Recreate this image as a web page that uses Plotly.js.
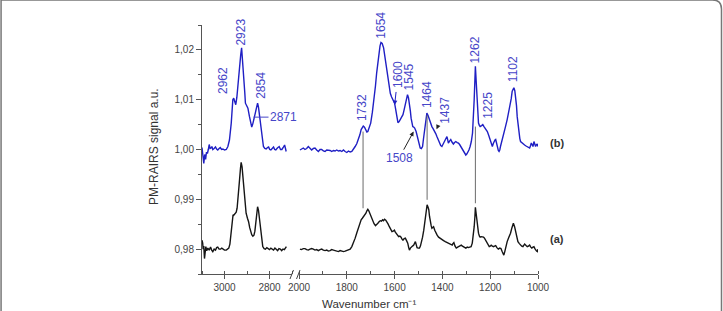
<!DOCTYPE html>
<html>
<head>
<meta charset="utf-8">
<script src="https://cdn.plot.ly/plotly-3.0.1.min.js"></script>
<style>
  html, body { margin: 0; padding: 0; background: #ffffff; }
  #chart { width: 723px; height: 311px; }
</style>
</head>
<body>
<div id="chart"></div>
<script>
// PM-RAIRS spectra, C-H stretching region (3100-2700 cm-1)
const wnCH_b = [3100,3096,3092,3088,3084,3080,3076,3072,3068,3064,3060,3056,3052,3046,3040,3035,3030,3024,3019,3013,3007,3000,2992,2985,2978,2970,2963,2959,2955,2950,2945,2939,2933,2928,2924,2919,2914,2910,2907,2901,2896,2889,2884,2879,2874,2870,2866,2862,2857,2853,2849,2844,2840,2837,2832,2827,2821,2815,2809,2804,2799,2794,2788,2782,2777,2772,2765,2757,2751,2745,2739,2733,2729,2726];
const sigCH_b = [1.0004,0.9988,0.9972,0.9990,0.9980,0.9995,0.9992,1.0000,1.0010,1.0002,1.0003,1.0006,1.0000,1.0002,1.0005,1.0001,0.9999,1.0002,1.0004,1.0000,1.0001,0.9999,1.0000,1.0006,1.0019,1.0053,1.0100,1.0103,1.0098,1.0090,1.0105,1.0140,1.0167,1.0190,1.0204,1.0178,1.0147,1.0115,1.0093,1.0087,1.0083,1.0066,1.0055,1.0045,1.0052,1.0060,1.0064,1.0070,1.0085,1.0093,1.0085,1.0066,1.0045,1.0033,1.0015,1.0006,1.0002,1.0001,1.0004,1.0005,1.0000,0.9999,1.0002,1.0005,1.0000,0.9999,1.0003,1.0006,1.0000,1.0000,1.0004,1.0009,1.0002,0.9996];

const wnCH_a = [3100,3097,3095,3092,3089,3086,3083,3079,3074,3068,3062,3057,3052,3046,3040,3035,3030,3024,3017,3012,3007,3000,2992,2986,2981,2976,2973,2969,2966,2962,2959,2954,2948,2944,2941,2937,2933,2929,2926,2922,2919,2915,2911,2907,2904,2898,2893,2888,2884,2879,2874,2869,2865,2861,2857,2853,2849,2844,2840,2836,2830,2824,2818,2812,2806,2800,2794,2788,2782,2776,2770,2764,2758,2752,2746,2740,2734,2729,2725];
const sigCH_a = [0.9818,0.9812,0.9800,0.9806,0.9781,0.9800,0.9805,0.9797,0.9802,0.9798,0.9804,0.9798,0.9795,0.9800,0.9798,0.9803,0.9804,0.9800,0.9800,0.9802,0.9800,0.9798,0.9798,0.9800,0.9802,0.9810,0.9825,0.9850,0.9865,0.9869,0.9868,0.9870,0.9874,0.9882,0.9895,0.9918,0.9940,0.9962,0.9974,0.9965,0.9950,0.9925,0.9900,0.9882,0.9872,0.9862,0.9855,0.9843,0.9835,0.9829,0.9826,0.9828,0.9836,0.9850,0.9870,0.9885,0.9878,0.9858,0.9835,0.9816,0.9805,0.9801,0.9800,0.9803,0.9800,0.9799,0.9802,0.9800,0.9798,0.9802,0.9800,0.9797,0.9801,0.9800,0.9797,0.9800,0.9799,0.9802,0.9805];

// PM-RAIRS spectra, fingerprint region (2000-1000 cm-1)
const wnFP_b = [1996,1989,1982,1975,1968,1961,1954,1947,1940,1933,1926,1919,1912,1905,1898,1891,1884,1877,1870,1863,1856,1849,1842,1835,1828,1821,1814,1807,1800,1793,1786,1779,1772,1765,1758,1751,1745,1740,1735,1731,1726,1720,1716,1712,1706,1700,1693,1686,1680,1675,1670,1666,1661,1657,1652,1646,1641,1636,1631,1627,1622,1618,1613,1607,1600,1596,1593,1589,1586,1581,1576,1570,1565,1560,1555,1550,1546,1542,1538,1534,1531,1527,1524,1520,1516,1510,1506,1502,1497,1493,1488,1483,1479,1475,1470,1465,1460,1455,1450,1444,1439,1434,1428,1423,1418,1413,1407,1402,1397,1392,1386,1381,1378,1375,1370,1365,1360,1354,1349,1344,1338,1333,1328,1323,1318,1312,1307,1302,1298,1294,1289,1284,1279,1274,1270,1267,1264,1262,1259,1256,1252,1249,1245,1242,1236,1231,1226,1221,1216,1212,1206,1200,1195,1191,1187,1184,1180,1177,1173,1170,1166,1163,1160,1157,1150,1143,1136,1129,1123,1118,1112,1108,1104,1101,1097,1094,1090,1087,1083,1080,1076,1073,1069,1066,1061,1056,1050,1045,1040,1035,1031,1028,1024,1021,1017,1014,1010,1007,1003,1000];
const sigFP_b = [0.9999,1.0001,1.0003,1.0000,1.0002,1.0006,1.0002,0.9999,1.0002,1.0003,0.9999,0.9996,1.0000,1.0000,0.9997,0.9996,0.9999,0.9999,0.9998,0.9996,0.9998,0.9997,0.9999,0.9997,0.9998,0.9996,0.9999,0.9996,0.9994,0.9997,0.9995,0.9996,1.0000,1.0006,1.0012,1.0020,1.0030,1.0040,1.0046,1.0047,1.0045,1.0038,1.0035,1.0036,1.0043,1.0053,1.0075,1.0100,1.0128,1.0154,1.0178,1.0194,1.0208,1.0215,1.0213,1.0204,1.0188,1.0167,1.0150,1.0134,1.0122,1.0113,1.0106,1.0100,1.0093,1.0082,1.0073,1.0062,1.0054,1.0056,1.0060,1.0064,1.0070,1.0080,1.0093,1.0103,1.0110,1.0104,1.0093,1.0077,1.0063,1.0052,1.0046,1.0045,1.0043,1.0036,1.0028,1.0020,1.0010,1.0003,1.0002,1.0006,1.0022,1.0040,1.0058,1.0073,1.0068,1.0060,1.0053,1.0046,1.0042,1.0038,1.0032,1.0026,1.0019,1.0013,1.0008,1.0006,1.0011,1.0016,1.0022,1.0026,1.0020,1.0013,1.0017,1.0020,1.0015,1.0011,1.0014,1.0016,1.0014,1.0013,1.0010,1.0006,1.0000,0.9996,0.9991,0.9989,0.9991,0.9994,0.9999,1.0006,1.0016,1.0033,1.0065,1.0100,1.0140,1.0167,1.0140,1.0113,1.0080,1.0053,1.0048,1.0046,1.0048,1.0050,1.0046,1.0043,1.0040,1.0036,1.0028,1.0020,1.0012,1.0006,1.0012,1.0016,1.0019,1.0020,1.0012,1.0003,0.9998,0.9996,0.9999,1.0006,1.0018,1.0033,1.0046,1.0060,1.0073,1.0087,1.0102,1.0117,1.0123,1.0124,1.0118,1.0107,1.0088,1.0066,1.0048,1.0033,1.0022,1.0016,1.0014,1.0013,1.0010,1.0009,1.0007,1.0006,1.0004,1.0003,1.0008,1.0013,1.0009,1.0006,1.0016,1.0010,1.0006,1.0009,1.0011,1.0006];

const wnFP_a = [1996,1990,1982,1975,1968,1961,1954,1947,1940,1933,1926,1919,1912,1905,1898,1891,1884,1877,1870,1863,1856,1849,1842,1835,1828,1821,1814,1807,1800,1793,1786,1779,1772,1765,1758,1751,1745,1740,1735,1730,1725,1720,1716,1712,1708,1704,1700,1695,1691,1686,1680,1675,1670,1665,1660,1655,1650,1646,1642,1637,1632,1627,1622,1616,1611,1606,1601,1597,1593,1588,1583,1578,1573,1569,1565,1560,1555,1550,1545,1541,1538,1534,1530,1525,1520,1516,1513,1509,1506,1501,1496,1492,1488,1483,1478,1474,1470,1467,1464,1460,1457,1454,1451,1447,1444,1440,1437,1432,1427,1422,1416,1409,1402,1395,1388,1380,1373,1366,1359,1356,1352,1347,1342,1336,1331,1326,1321,1316,1311,1306,1302,1296,1291,1286,1280,1275,1271,1267,1264,1262,1259,1256,1253,1249,1245,1242,1237,1232,1228,1224,1219,1214,1209,1204,1200,1196,1191,1186,1182,1177,1172,1166,1160,1155,1150,1146,1143,1139,1134,1129,1122,1115,1109,1103,1098,1094,1089,1084,1078,1073,1068,1063,1059,1056,1050,1045,1040,1035,1030,1026,1021,1017,1013,1010,1006,1003,1000];
const sigFP_a = [0.9800,0.9799,0.9801,0.9801,0.9799,0.9798,0.9800,0.9801,0.9800,0.9798,0.9799,0.9797,0.9799,0.9800,0.9798,0.9797,0.9798,0.9796,0.9797,0.9799,0.9798,0.9797,0.9795,0.9795,0.9797,0.9796,0.9795,0.9796,0.9797,0.9798,0.9800,0.9805,0.9812,0.9822,0.9833,0.9845,0.9853,0.9859,0.9862,0.9865,0.9868,0.9872,0.9877,0.9880,0.9877,0.9872,0.9869,0.9862,0.9855,0.9851,0.9847,0.9849,0.9852,0.9855,0.9857,0.9856,0.9859,0.9857,0.9860,0.9858,0.9855,0.9850,0.9845,0.9840,0.9835,0.9836,0.9838,0.9834,0.9832,0.9829,0.9825,0.9826,0.9824,0.9820,0.9818,0.9821,0.9822,0.9817,0.9812,0.9803,0.9798,0.9802,0.9805,0.9806,0.9808,0.9812,0.9815,0.9808,0.9803,0.9802,0.9802,0.9806,0.9812,0.9824,0.9838,0.9852,0.9865,0.9880,0.9889,0.9884,0.9879,0.9866,0.9855,0.9847,0.9842,0.9843,0.9845,0.9838,0.9832,0.9828,0.9824,0.9821,0.9818,0.9817,0.9815,0.9813,0.9812,0.9810,0.9808,0.9811,0.9813,0.9806,0.9802,0.9804,0.9805,0.9807,0.9808,0.9806,0.9805,0.9803,0.9802,0.9804,0.9803,0.9804,0.9805,0.9812,0.9825,0.9845,0.9865,0.9884,0.9872,0.9859,0.9845,0.9832,0.9826,0.9824,0.9825,0.9825,0.9824,0.9822,0.9817,0.9812,0.9808,0.9805,0.9806,0.9808,0.9806,0.9805,0.9806,0.9807,0.9803,0.9800,0.9802,0.9801,0.9795,0.9790,0.9788,0.9795,0.9806,0.9815,0.9824,0.9832,0.9843,0.9852,0.9845,0.9835,0.9824,0.9815,0.9811,0.9808,0.9806,0.9805,0.9808,0.9810,0.9807,0.9805,0.9806,0.9808,0.9804,0.9802,0.9804,0.9805,0.9801,0.9798,0.9796,0.9795,0.9800];

// y tick labels (decimal comma)
const yTickVals = [0.98, 0.99, 1.00, 1.01, 1.02];
const yTickText = ['0,98', '0,99', '1,00', '1,01', '1,02'];

// band assignments written on spectrum (b)
const bandsCH = [2962, 2923, 2854];
const bandsFP = [1732, 1654, 1545, 1464, 1262, 1225, 1102];
const bandsArrowed = [1600, 1437];
const bandSide = [2871, 1508];

// bands common to (a) and (b), joined by a vertical guide
const sharedBands = [1732, 1464, 1262];
const sharedTop = [1.0036, 1.0069, 1.0046];
const sharedBottom = [0.9882, 0.9899, 0.9892];

const BLUE = '#1f1fc4';
const LABEL_BLUE = '#4646c8';
const AXIS = '#555555';
const FONT = 'Liberation Sans, Arial, sans-serif';
const labelFont = { family: FONT, size: 12, color: LABEL_BLUE };

// label placement: vertical position (signal units) and horizontal nudge in px
const labelPlace = {
  2962: [1.01376, -10], 2923: [1.02365, -1], 2854: [1.01295, 3.5],
  1732: [1.00833, -1], 1654: [1.02500, -1],
  1545: [1.01456, 1.7], 1464: [1.01094, 0],
  1262: [1.01998, 0], 1225: [1.00894, 3.6], 1102: [1.01606, -1]
};
// arrowed labels: arrow tip (signal units, px nudge) and text offset from the tip (px)
const arrowPlace = {
  1600: { y: 1.00894, dx: 0, ax: 3.4, ay: -30, color: BLUE },
  1437: { y: 1.00406, dx: 3, ax: 8.3, ay: -19.3, color: '#222' }
};

const traces = [
  { x: wnCH_b, y: sigCH_b, xaxis: 'x', yaxis: 'y', mode: 'lines', line: { color: BLUE, width: 1.4 }, hoverinfo: 'skip' },
  { x: wnFP_b, y: sigFP_b, xaxis: 'x2', yaxis: 'y', mode: 'lines', line: { color: BLUE, width: 1.4 }, hoverinfo: 'skip' },
  { x: wnCH_a, y: sigCH_a, xaxis: 'x', yaxis: 'y', mode: 'lines', line: { color: '#151515', width: 1.4 }, hoverinfo: 'skip' },
  { x: wnFP_a, y: sigFP_a, xaxis: 'x2', yaxis: 'y', mode: 'lines', line: { color: '#151515', width: 1.4 }, hoverinfo: 'skip' }
];

const annotations = [];
function bandLabel(wn, xref) {
  const p = labelPlace[wn];
  annotations.push({
    x: wn, y: p[0], xref: xref, yref: 'y', xshift: p[1],
    text: String(wn), textangle: -90, showarrow: false,
    xanchor: 'center', yanchor: 'middle', font: labelFont
  });
}
bandsCH.forEach(w => bandLabel(w, 'x'));
bandsFP.forEach(w => bandLabel(w, 'x2'));

bandsArrowed.forEach(w => {
  const p = arrowPlace[w];
  annotations.push({
    x: w, y: p.y, xref: 'x2', yref: 'y', xshift: p.dx,
    text: String(w), textangle: -90, font: labelFont,
    showarrow: true, arrowhead: 2, arrowsize: 0.9, arrowwidth: 1,
    arrowcolor: p.color, ax: p.ax, ay: p.ay, standoff: 0, startstandoff: 2
  });
});

// 2871 shoulder: short horizontal leader
annotations.push({
  x: bandSide[0], y: 1.0065, xref: 'x', yref: 'y',
  text: String(bandSide[0]), showarrow: true, arrowhead: 0, arrowwidth: 1,
  arrowcolor: LABEL_BLUE, ax: 30, ay: 0, standoff: 0, font: labelFont
});
// 1508 shoulder: label under the trace, arrow up to it
annotations.push({
  x: bandSide[1], y: 1.0036, xref: 'x2', yref: 'y', xshift: -3,
  text: String(bandSide[1]), font: labelFont,
  showarrow: true, arrowhead: 2, arrowsize: 0.9, arrowwidth: 1,
  arrowcolor: '#222', ax: -14.5, ay: 26.6, standoff: 0
});

// spectrum tags
annotations.push({ x: 1.0824, y: 0.5273, xref: 'paper', yref: 'paper', text: '<b>(b)</b>', showarrow: false,
  font: { family: FONT, size: 11, color: '#333' } });
annotations.push({ x: 1.0824, y: 0.1096, xref: 'paper', yref: 'paper', text: '<b>(a)</b>', showarrow: false,
  font: { family: FONT, size: 11, color: '#333' } });

// axis titles
annotations.push({ x: -0.1443, y: 0.512, xref: 'paper', yref: 'paper', text: 'PM-RAIRS signal a.u.',
  textangle: -90, showarrow: false, xanchor: 'center', yanchor: 'middle',
  font: { family: FONT, size: 12, color: '#333' } });
annotations.push({ x: 0.4985, y: -0.1205, xref: 'paper', yref: 'paper', text: 'Wavenumber cm⁻¹',
  showarrow: false, xanchor: 'center', yanchor: 'middle',
  font: { family: FONT, size: 11.5, color: '#333' } });

const shapes = [];
sharedBands.forEach((w, i) => {
  shapes.push({ type: 'line', xref: 'x2', yref: 'y', x0: w, x1: w, y0: sharedTop[i], y1: sharedBottom[i],
    line: { color: '#6a6a6a', width: 1 } });
});
// axis break marks
[[0.2619, 0.2723], [0.2813, 0.2917]].forEach(s => {
  shapes.push({ type: 'line', xref: 'paper', yref: 'paper', x0: s[0], x1: s[1], y0: -0.0201, y1: 0.0161,
    line: { color: '#444', width: 1 } });
});
// outer frame with rounded top-right corner
const fx0 = -0.598, fx1 = 1.5461, fy0 = -0.2, fy1 = 1.1004, rx = 0.0268, ry = 0.0361;
shapes.push({ type: 'path', xref: 'paper', yref: 'paper', layer: 'above',
  path: `M ${fx0},${fy0} L ${fx0},${fy1} L ${fx1 - rx},${fy1} Q ${fx1},${fy1} ${fx1},${fy1 - ry} L ${fx1},${fy0}`,
  line: { color: '#777', width: 1.5 } });

const tickFont = { family: FONT, size: 10, color: '#444' };
const layout = {
  width: 723, height: 311, autosize: false,
  margin: { l: 202, r: 185, t: 25, b: 37, pad: 0 },
  paper_bgcolor: '#ffffff', plot_bgcolor: '#ffffff',
  showlegend: false,
  font: { family: FONT },
  xaxis: {
    domain: [0, 0.2679], range: [3100, 2700], anchor: 'y',
    tickmode: 'linear', tick0: 0, dtick: 200,
    showline: true, linecolor: AXIS, linewidth: 1, mirror: false,
    ticks: 'outside', ticklen: 4, tickcolor: AXIS, tickwidth: 1,
    minor: { dtick: 100, tick0: 0, ticks: 'inside', ticklen: 3, tickcolor: AXIS },
    showgrid: false, zeroline: false, tickfont: tickFont
  },
  xaxis2: {
    domain: [0.2887, 1], range: [2000, 1000], anchor: 'y',
    tickmode: 'linear', tick0: 0, dtick: 200,
    showline: true, linecolor: AXIS, linewidth: 1,
    ticks: 'outside', ticklen: 4, tickcolor: AXIS, tickwidth: 1,
    minor: { dtick: 100, tick0: 0, ticks: 'inside', ticklen: 3, tickcolor: AXIS },
    showgrid: false, zeroline: false, tickfont: tickFont
  },
  yaxis: {
    domain: [0, 1], range: [0.975, 1.025], anchor: 'x',
    tickmode: 'array', tickvals: yTickVals, ticktext: yTickText,
    showline: true, linecolor: AXIS, linewidth: 1,
    ticks: 'outside', ticklen: 5, tickcolor: AXIS, tickwidth: 1,
    minor: { dtick: 0.005, tick0: 0, ticks: 'outside', ticklen: 3, tickcolor: AXIS },
    showgrid: false, zeroline: false, tickfont: tickFont
  },
  annotations: annotations,
  shapes: shapes
};

Plotly.newPlot('chart', traces, layout, { staticPlot: true, displayModeBar: false });
</script>
</body>
</html>
